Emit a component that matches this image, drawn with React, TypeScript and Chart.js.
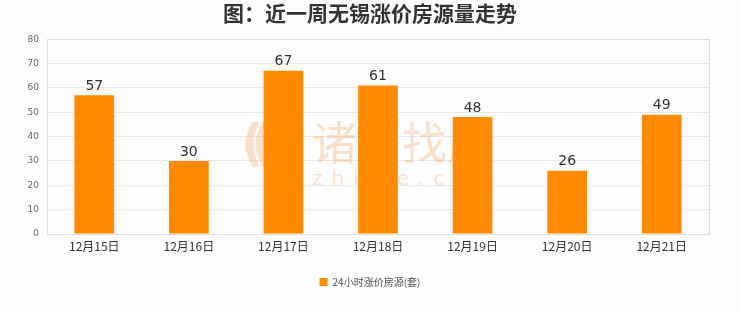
import React, { useEffect, useRef } from "react";
import { Chart, registerables } from "chart.js";

Chart.register(...registerables);

const categories = ["12月15日", "12月16日", "12月17日", "12月18日", "12月19日", "12月20日", "12月21日"];
const values = [57, 30, 67, 61, 48, 26, 49];
const seriesName = "24小时涨价房源(套)";
const titleText = "图：近一周无锡涨价房源量走势";
const watermarkMain = "诸葛找房";
const watermarkSub = "zhuge.com";
const yMin = 0;
const yMax = 80;
const yStep = 10;

const labelPlugin = {
  id: "barLabels",
  afterDatasetsDraw(chart: any) {
    const ctx = chart.ctx;
    const meta = chart.getDatasetMeta(0);
    ctx.save();
    ctx.font = "14px 'DejaVu Sans', sans-serif";
    ctx.fillStyle = "#333333";
    ctx.textAlign = "center";
    ctx.textBaseline = "bottom";
    meta.data.forEach((bar: any, i: number) => {
      ctx.fillText(String(values[i]), bar.x, bar.y - 2);
    });
    ctx.restore();
  },
};

const borderPlugin = {
  id: "areaBorder",
  beforeDatasetsDraw(chart: any) {
    const { ctx, chartArea } = chart;
    ctx.save();
    ctx.strokeStyle = "#dddddd";
    ctx.lineWidth = 1;
    ctx.strokeRect(
      Math.round(chartArea.left) + 0.5,
      Math.round(chartArea.top) + 0.5,
      Math.round(chartArea.right - chartArea.left),
      Math.round(chartArea.bottom - chartArea.top)
    );
    // watermark
    const cx = (chartArea.left + chartArea.right) / 2;
    ctx.fillStyle = "rgba(242, 165, 100, 0.32)";
    ctx.textAlign = "left";
    ctx.textBaseline = "middle";
    ctx.font = "45px 'Noto Sans CJK SC', sans-serif";
    ctx.fillText(watermarkMain, cx - 66, chartArea.top + 104);
    ctx.font = "20px 'DejaVu Sans', sans-serif";
    (ctx as any).letterSpacing = "9px";
    ctx.fillText(watermarkSub, cx - 66, chartArea.top + 141);
    (ctx as any).letterSpacing = "0px";
    ctx.font = "bold 50px 'DejaVu Sans', sans-serif";
    ctx.fillText("(", cx - 137, chartArea.top + 108);
    ctx.fillText("(", cx - 127, chartArea.top + 108);
    ctx.restore();
  },
};

const bgPlugin = {
  id: "bg",
  beforeDraw(chart: any) {
    const { ctx, width, height } = chart;
    ctx.save();
    ctx.fillStyle = "#fcfcfc";
    ctx.fillRect(0, 0, width, height);
    ctx.restore();
  },
};

export default function App() {
  const ref = useRef<HTMLCanvasElement>(null);
  useEffect(() => {
    document.body.style.margin = "0";
    const chart = new Chart(ref.current!, {
      type: "bar",
      data: {
        labels: categories,
        datasets: [
          {
            label: seriesName,
            data: values,
            backgroundColor: "#ff8a00",
            borderWidth: 0,
            categoryPercentage: 1,
            barPercentage: 0.42,
          },
        ],
      },
      options: {
        animation: false,
        responsive: false,
        maintainAspectRatio: false,
        layout: { padding: { left: 0, right: 0, top: 0, bottom: 15 } },
        plugins: {
          title: {
            display: true,
            text: titleText,
            color: "#333333",
            font: { size: 21, weight: "bold", family: "'Noto Sans CJK SC', sans-serif" },
            padding: { top: 0, bottom: 14 },
          },
          legend: {
            position: "bottom",
            labels: {
              boxWidth: 8,
              boxHeight: 8,
              padding: 10,
              color: "#555555",
              font: { size: 10, family: "'Noto Sans CJK SC', sans-serif" },
            },
          },
          tooltip: { enabled: false },
        },
        scales: {
          x: {
            grid: { display: false },
            border: { color: "#dddddd" },
            ticks: {
              color: "#333333",
              font: { size: 12, family: "'Noto Sans CJK SC', sans-serif" },
              padding: -3,
              maxRotation: 0,
            },
            afterFit(s: any) {
              s.height = 33;
            },
          },
          y: {
            min: yMin,
            max: yMax,
            grid: { color: "#e8e8e8", drawTicks: false },
            border: { color: "#dddddd" },
            ticks: {
              stepSize: yStep,
              color: "#666666",
              font: { size: 9, family: "'DejaVu Sans', sans-serif" },
              padding: 8,
            },
            afterFit(s: any) {
              s.width = 47;
            },
          },
          y2: {
            position: "right",
            min: yMin,
            max: yMax,
            grid: { display: false },
            border: { display: false },
            ticks: { display: false },
            afterFit(s: any) {
              s.width = 31;
            },
          },
        },
      },
      plugins: [bgPlugin, borderPlugin, labelPlugin],
    });
    return () => chart.destroy();
  }, []);
  return (
    <div style={{ width: 740, height: 312 }}>
      <canvas ref={ref} width={740} height={312} style={{ width: 740, height: 312, display: "block" }} />
    </div>
  );
}
